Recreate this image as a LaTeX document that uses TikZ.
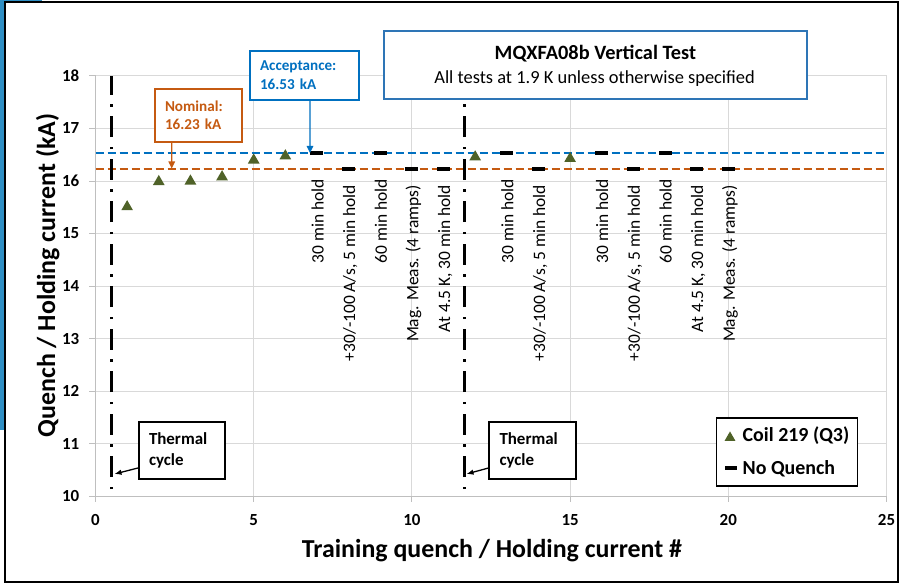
\documentclass[tikz,border=0pt]{standalone}
\usepackage{fontspec}
\setmainfont{Carlito}
\usetikzlibrary{arrows.meta,shapes.geometric,calc}
\definecolor{xblue}{HTML}{0070C0}
\definecolor{xorange}{HTML}{C55A11}
\definecolor{boxblue}{HTML}{2E75B6}
\definecolor{olivegreen}{HTML}{4F6228}
\definecolor{gridgray}{HTML}{D9D9D9}
\definecolor{axisgray}{HTML}{BFBFBF}
\definecolor{slideblue}{HTML}{2F8FC4}
\newcommand\myfs[2]{\fontsize{#1}{#2}\selectfont}
\begin{document}
\begin{tikzpicture}[x=1bp,y=-1bp,
  tri/.style={regular polygon, regular polygon sides=3, fill=olivegreen, draw=none, minimum size=13.5bp, inner sep=0pt, yshift=-1.7bp},
  nq/.style={rectangle, fill=black, draw=none, minimum width=13bp, minimum height=3.5bp, inner sep=0pt},
  dlabel/.style={rotate=90, anchor=east, inner sep=0pt, text height=12bp, text depth=4bp, font=\myfs{17.5}{20}},
  refline/.style={line width=2.4bp, dash pattern=on 8bp off 4bp},
  tcline/.style={line width=2.5bp, dash pattern=on 2.5bp off 9.5bp on 21bp off 9.5bp},
  thbox/.style={draw=black, line width=1.8bp, fill=white, minimum width=86.3bp, minimum height=57bp, inner xsep=10bp, text width=66bp, align=left, font=\bfseries\myfs{17}{20.5}},
  notebox/.style={line width=1.8bp, fill=white, inner xsep=10bp, align=left, font=\bfseries\myfs{15.2}{18.6}},
  ticklab/.style={inner sep=0pt, font=\bfseries\myfs{17}{20}},
  legtext/.style={inner sep=0pt, anchor=west, font=\bfseries\myfs{20}{24}},
  axtitle/.style={inner sep=0pt, font=\bfseries\myfs{26}{30}},
  tharrow/.style={black, line width=1.3bp, -{Latex[length=7bp,width=5.5bp]}},
  notearrow/.style={line width=1.3bp, -{Triangle[length=7bp,width=6.5bp]}}
]
\useasboundingbox (0,0) rectangle (904,584);
\fill[white] (0,0) rectangle (904,584);
% slide background remnants
\fill[slideblue] (0,0) rectangle (3.5,430);
\fill[slideblue] (0,0) rectangle (42,1.6);
% outer frame
\draw[black, line width=2bp] (4.5,2.5) rectangle (897.5,582);

% ---------- data area ----------
\begin{scope}[shift={(95.5bp,-1021bp)}, x=31.64bp, y=52.5bp]
  \foreach \v in {11,...,18} \draw[gridgray, line width=1bp] (0,\v) -- (25,\v);
  \foreach \u in {5,10,...,25} \draw[gridgray, line width=1bp] (\u,10) -- (\u,18);
  \draw[axisgray, line width=1bp] (0,10) -- (0,18);
  \draw[axisgray, line width=1bp] (0,10) -- (25,10);
  \foreach \v in {10,...,18} {
    \draw[axisgray, line width=1bp] (0,\v) -- ++(-7bp,0);
    \node[ticklab, anchor=east, xshift=-16bp] (yl\v) at (0,\v) {\v};
  }
  \foreach \u in {0,5,...,25} {
    \draw[axisgray, line width=1bp] (\u,10) -- ++(0,-6bp);
    \node[ticklab, yshift=-24bp] (xl\u) at (\u,10) {\u};
  }
  % reference lines
  \draw[refline, xblue] (0,16.53) -- (25,16.53);
  \draw[refline, xorange] (0,16.23) -- (25,16.23);
  % thermal cycle lines
  \draw[tcline] (0.5,10.13) -- (0.5,18);
  \draw[tcline] (11.66,10.13) -- (11.66,18);
  % quench points
  \foreach \i/\q in {1/15.54, 2/16.02, 3/16.03, 4/16.11, 5/16.43, 6/16.51, 12/16.49, 15/16.46}
    \node[tri] (c\i) at (\i,\q) {};
  % no quench markers
  \foreach \i/\q in {7/16.53, 8/16.23, 9/16.53, 10/16.23, 11/16.23, 13/16.53, 14/16.23, 16/16.53, 17/16.23, 18/16.53, 19/16.23, 20/16.23}
    \node[nq] (m\i) at (\i,\q) {};
\end{scope}

% ---------- data labels ----------
\node[dlabel] (l7)  at (319.5,179) {30 min hold};
\node[dlabel] (l8)  at (351.1,185) {+30/-100 A/s, 5 min hold};
\node[dlabel] (l9)  at (382.8,179) {60 min hold};
\node[dlabel] (l10) at (414.4,185) {Mag. Meas. (4 ramps)};
\node[dlabel] (l11) at (446.0,185) {At 4.5 K, 30 min hold};
\node[dlabel] (l13) at (509.3,179) {30 min hold};
\node[dlabel] (l14) at (541.0,185) {+30/-100 A/s, 5 min hold};
\node[dlabel] (l16) at (604.2,179) {30 min hold};
\node[dlabel] (l17) at (635.9,185) {+30/-100 A/s, 5 min hold};
\node[dlabel] (l18) at (667.5,179) {60 min hold};
\node[dlabel] (l19) at (699.2,185) {At 4.5 K, 30 min hold};
\node[dlabel] (l20) at (730.8,185) {Mag. Meas. (4 ramps)};

% ---------- axis titles ----------
\node[axtitle, rotate=90, anchor=base] (ytitle) at (55,275.5) {Quench / Holding current (kA)};
\node[axtitle, anchor=base] (xtitle) at (492,557) {Training quench / Holding current \#};

% ---------- annotation boxes ----------
\node[notebox, draw=xorange, text=xorange, minimum width=87bp, minimum height=52.7bp, text width=67bp] (nom) at (198.5,115.3) {Nominal:\\16.23 kA};
\node[notebox, draw=xblue, text=xblue, minimum width=109bp, minimum height=49.3bp, text width=89bp] (acc) at (304.5,75.4) {Acceptance:\\16.53 kA};
\coordinate (nomTip) at (171.7,168.5);
\coordinate (accTip) at (310,153);
\draw[notearrow, xorange] ([xshift=-26.8bp]nom.south) -- (nomTip);
\draw[notearrow, xblue] ([xshift=5.5bp]acc.south) -- (accTip);

\node[draw=boxblue, line width=2bp, fill=white, minimum width=422.7bp, minimum height=68bp, inner sep=0pt] (title) at (595.4,64.7) {};
\node[inner sep=0pt, anchor=base, font=\bfseries\myfs{20.4}{24}] (ttl1) at (595.4,60) {MQXFA08b Vertical Test};
\node[inner sep=0pt, anchor=base, font=\myfs{18.5}{22}] (ttl2) at (594.6,84) {All tests at 1.9 K unless otherwise specified};

% ---------- thermal cycle boxes ----------
\node[thbox] (th1) at (182,450.5) {Thermal\\cycle};
\node[thbox] (th2) at (532.5,450.5) {Thermal\\cycle};
\coordinate (tc1tip) at (114.5,474);
\coordinate (tc2tip) at (466.5,474);
\draw[tharrow] ([yshift=-17.5bp]th1.west) -- (tc1tip);
\draw[tharrow] ([yshift=-17.5bp]th2.west) -- (tc2tip);

% ---------- legend ----------
\node[draw=black, line width=1.3bp, fill=white, minimum width=141bp, minimum height=68bp, inner sep=0pt] (legend) at (787.2,452) {};
\node[tri, minimum size=12.5bp] (legtri) at (730,436) {};
\node[nq, minimum width=11.5bp] (legnq) at (731,468) {};
\node[legtext] (legt1) at (742.5,436) {Coil 219 (Q3)};
\node[legtext] (legt2) at (742.5,469) {No Quench};
\end{tikzpicture}
\end{document}
